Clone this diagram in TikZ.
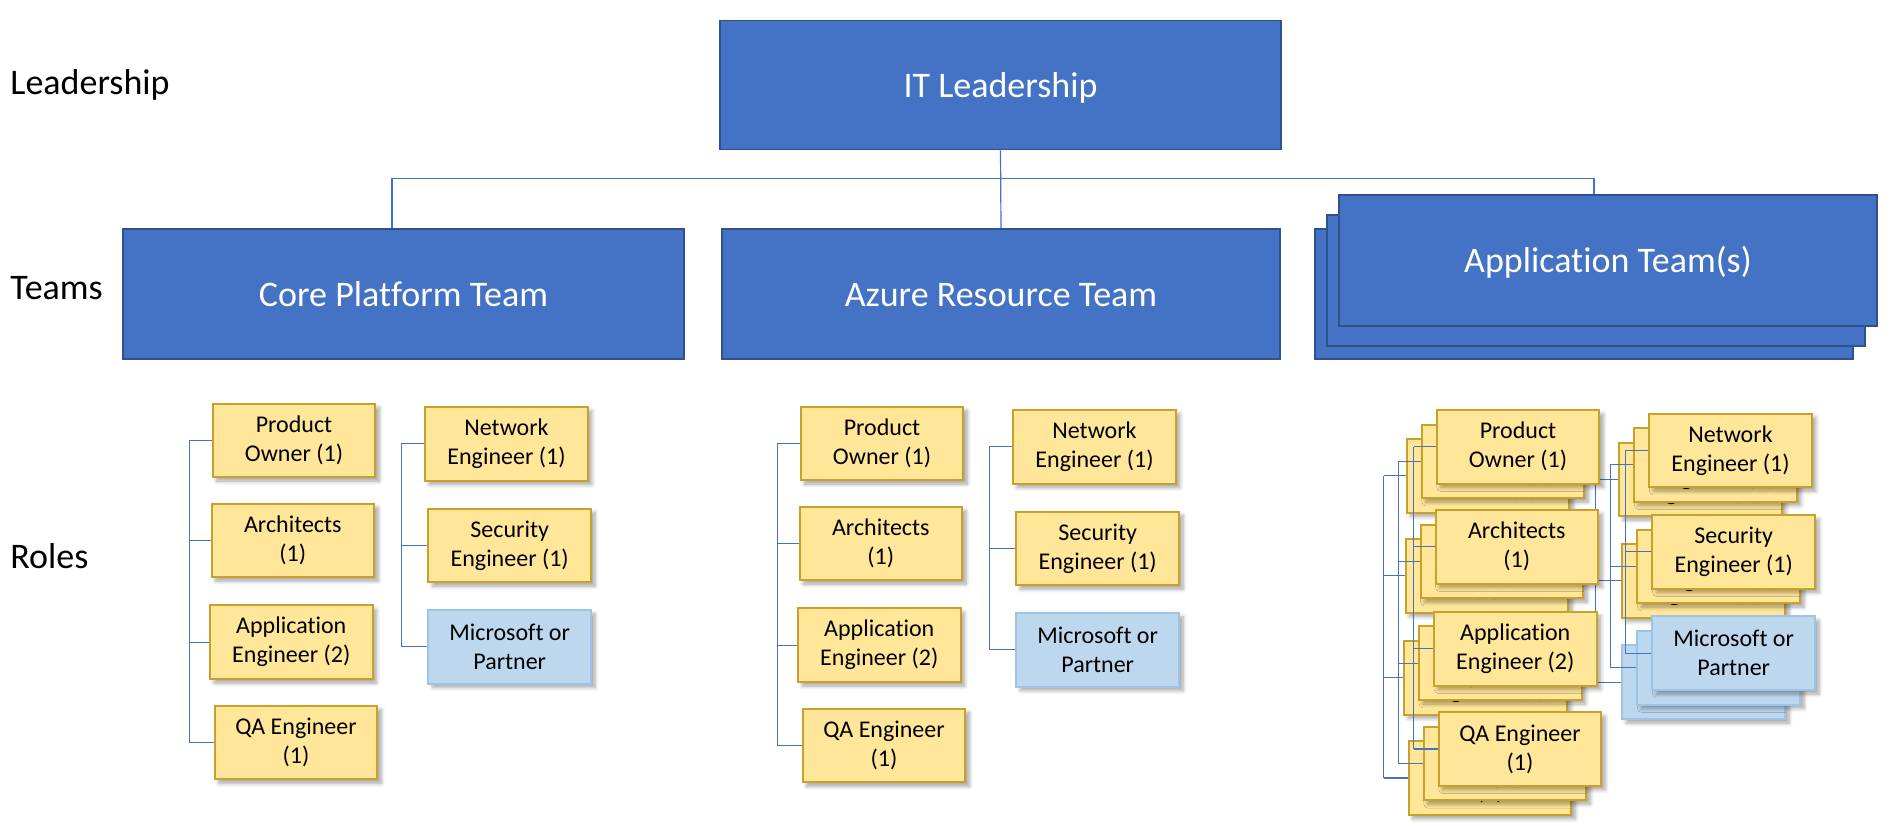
\documentclass[tikz,border=0pt]{standalone}
\usepackage{fontspec}
\setmainfont{Carlito}[Ligatures={NoCommon}]
\usetikzlibrary{shadows,shadows.blur}
\definecolor{teamblue}{HTML}{4472C4}
\definecolor{teamedge}{HTML}{2F528F}
\definecolor{rolefill}{HTML}{FFE699}
\definecolor{roleedge}{HTML}{C9A02A}
\definecolor{partfill}{HTML}{BDD7EE}
\definecolor{partedge}{HTML}{9DC3E6}
\definecolor{connblue}{HTML}{4472C4}
\tikzset{
  team/.style={draw=teamedge, fill=teamblue, line width=0.8pt, text=white,
    font=\fontsize{18}{21.6}\selectfont, inner sep=0pt, text height=15pt, text depth=2.6pt},
  rolebox/.style={draw=roleedge, fill=rolefill, line width=1pt, align=center,
    minimum width=81.3pt, minimum height=36.8pt, inner sep=0pt,
    font=\fontsize{12}{14.5}\selectfont,
    blur shadow={shadow xshift=2pt, shadow yshift=-2pt, shadow blur steps=6, shadow opacity=35}},
  partner/.style={rolebox, draw=partedge, fill=partfill},
  conn/.style={draw=connblue, line width=0.6pt},
  sidelabel/.style={anchor=west, font=\fontsize{18}{21.6}\selectfont, inner sep=0pt}
}
\newcommand\rolegroup[3]{%
\begin{scope}[shift={(#2,#3)}]
  \node[rolebox] (#1po) at (294,440.3) {Product\\Owner (1)};
  \node[rolebox] (#1ar) at (292.8,540.3) {Architects\\(1)};
  \node[rolebox] (#1ae) at (291.3,642.2) {Application\\Engineer (2)};
  \node[rolebox] (#1qa) at (296,742.5) {QA Engineer\\(1)};
  \node[rolebox] (#1ne) at (506.5,443.8) {Network\\Engineer (1)};
  \node[rolebox] (#1se) at (509.7,545.3) {Security\\Engineer (1)};
  \node[partner] (#1ms) at (509.7,646.7) {Microsoft or\\Partner};
  \coordinate (#1lx) at (189.7,0);
  \coordinate (#1rx) at (401.3,0);
  \draw[conn] (#1po.west -| #1lx) -- (#1qa.west -| #1lx);
  \draw[conn] (#1ne.west -| #1rx) -- (#1ms.west -| #1rx);
  \foreach \n in {po,ar,ae,qa} {\draw[conn] (#1\n.west) -- (#1\n.west -| #1lx);}
  \foreach \n in {ne,se,ms} {\draw[conn] (#1\n.west) -- (#1\n.west -| #1rx);}
\end{scope}}
\begin{document}
\begin{tikzpicture}[x=0.5pt,y=-0.5pt]
  \useasboundingbox (0,0) rectangle (1891,826);
  % side labels
  \node[sidelabel] (lblLead) at (10,85) {Leadership};
  \node[sidelabel] (lblTeams) at (10,288) {Teams};
  \node[sidelabel] (lblRoles) at (10,556) {Roles};
  % leadership
  \node[team, minimum width=280.5pt, minimum height=64.5pt] (lead) at (1000.5,85) {IT Leadership};
  % teams
  \node[team, minimum width=280.5pt, minimum height=65pt] (core) at (403.5,294) {Core Platform Team};
  \node[team, minimum width=279pt, minimum height=65pt] (azure) at (1001,294) {Azure Resource Team};
  \node[team, minimum width=269pt, minimum height=65pt] (appc) at (1584,294) {};
  \node[team, minimum width=269pt, minimum height=65.5pt] (appb) at (1596,280.5) {};
  \node[team, minimum width=269pt, minimum height=65.5pt] (app) at (1608,260.5) {Application Team(s)};
  % top connectors
  \coordinate (busL) at (392,178.5);
  \coordinate (busR) at (1594,178.5);
  \draw[conn] (lead.south) -- (azure.north);
  \draw[conn] (core.north -| busL) -- (busL) -- (busR) -- (app.north -| busR);
  % role groups
  \rolegroup{c}{0}{0}
  \rolegroup{z}{588}{3}
  \rolegroup{ab}{1194}{35.5}
  \rolegroup{am}{1209}{21}
  \rolegroup{af}{1224}{6.5}
\end{tikzpicture}
\end{document}
